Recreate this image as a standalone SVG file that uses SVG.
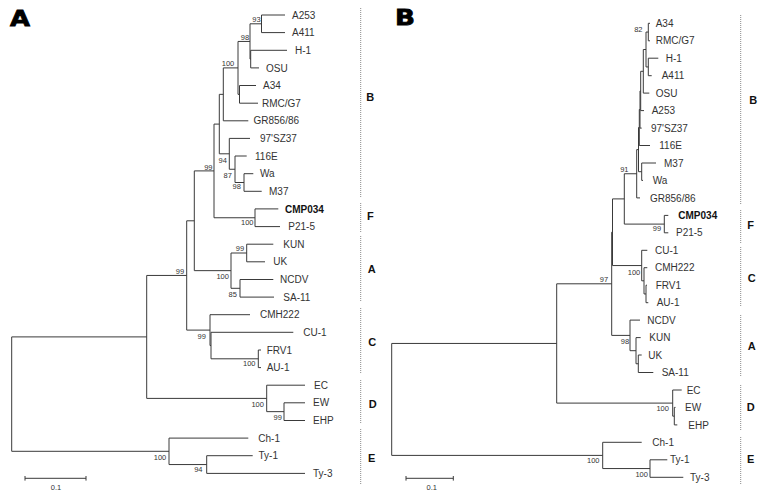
<svg xmlns="http://www.w3.org/2000/svg" width="768" height="498" viewBox="0 0 768 498">
<style>
.br{fill:none;stroke:#3a3a3a;stroke-width:1}
.dot{fill:none;stroke:#8a8a8a;stroke-width:1;stroke-dasharray:1 1}
text{font-family:"Liberation Sans",Arial,sans-serif;fill:#333}
.lf{font-size:10px}
.bd{font-weight:bold;fill:#111}
.bs{font-size:7.5px;text-anchor:middle}
.cl{font-size:11px;font-weight:bold;text-anchor:middle;fill:#111}
.pn{font-family:"DejaVu Sans",sans-serif;font-size:22px;font-weight:bold;fill:#000;stroke:#000;stroke-width:0.8}
</style>
<rect width="768" height="498" fill="#fff"/>
<text class="pn" x="10" y="26" textLength="20" lengthAdjust="spacingAndGlyphs">A</text>
<text class="pn" x="395" y="25" textLength="20" lengthAdjust="spacingAndGlyphs">B</text>

<g id="connectors">
<path class="br" d="M11.7 336.9V451.3M146.7 275.45V398.4M186.7 220.8V330.1M194.3 170.9V270.65M214 124.1V217.75M219.3 94.35V153.8M223.3 67.9V120.8M238 41.45V94.35M250 23.8V59.1M261.5 15V32.6M250.7 50.3V67.9M239.5 85.5V103.2M229.3 138.4V169.25M235 156V182.5M244 173.7V191.3M255 208.9V226.6M231 253V288.3M246.7 244.2V261.8M240 279.5V297.1M210 314.7V345.55M211 332.3V358.8M258.3 350V367.6M266.7 385.2V411.65M284 402.8V420.5M169 438.1V464.55M206.7 455.7V473.4"/>
<path class="br" d="M11.7 336.9H146.7M11.7 451.3H169M146.7 275.45H186.7M146.7 398.4H266.7M186.7 220.8H194.3M186.7 330.1H210M194.3 170.9H214M194.3 270.65H231M214 124.1H219.3M214 217.75H255M219.3 94.35H223.3M219.3 153.8H229.3M223.3 67.9H238M223.3 120.8H248.3M238 41.45H250M238 94.35H239.5M250 23.8H261.5M250 59.1H250.7M261.5 15H285M261.5 32.6H285M250.7 50.3H287M250.7 67.9H259M239.5 85.5H256M239.5 103.2H258M229.3 138.4H250M229.3 169.25H235M235 156H246.7M235 182.5H244M244 173.7H253.3M244 191.3H261.7M255 208.9H278.3M255 226.6H280M231 253H246.7M231 288.3H240M246.7 244.2H273.3M246.7 261.8H265M240 279.5H273.3M240 297.1H274M210 314.7H250M210 345.55H211M211 332.3H293.3M211 358.8H258.3M258.3 350H261M258.3 367.6H261M266.7 385.2H305M266.7 411.65H284M284 402.8H305M284 420.5H305M169 438.1H248.3M169 464.55H206.7M206.7 455.7H252.7M206.7 473.4H305"/>
<path class="br" d="M391.7 343.45V455.4M556.7 283.8V403.1M611.7 232.2V335.4M612.5 198.9V265.55M624.3 173.75V224.1M636.7 149.6V197.9M638.5 127.5V171.7M639.3 109.5V145.5M640 90.95V128.1M640.7 71.3V110.6M643.3 49.5V93.1M646 32.05V66.95M648.3 23.3V40.8M648.3 58.2V75.7M641.7 163V180.4M664.3 215.4V232.8M641.7 250.3V280.8M644 267.7V293.95M646 285.2V302.7M630 320.1V350.7M636 337.6V363.75M638.3 355V372.5M672.7 390V416.15M674.3 407.4V424.9M602.7 442.3V468.55M650 459.8V477.3"/>
<path class="br" d="M391.7 343.45H556.7M391.7 455.4H602.7M556.7 283.8H611.7M556.7 403.1H672.7M611.7 232.2H612.5M611.7 335.4H630M612.5 198.9H624.3M612.5 265.55H641.7M624.3 173.75H636.7M624.3 224.1H664.3M636.7 149.6H638.5M636.7 197.9H640M638.5 127.5H639.3M638.5 171.7H641.7M639.3 109.5H640M639.3 145.5H650M640 90.95H640.7M640 128.1H641.7M640.7 71.3H643.3M640.7 110.6H644M643.3 49.5H646M643.3 93.1H649.3M646 32.05H648.3M646 66.95H648.3M648.3 23.3H650M648.3 40.8H650M648.3 58.2H658.3M648.3 75.7H651.7M641.7 163H656M641.7 180.4H643M664.3 215.4H668.3M664.3 232.8H668.3M641.7 250.3H647.3M641.7 280.8H644M644 267.7H647.3M644 293.95H646M646 285.2H647M646 302.7H648.3M630 320.1H640M630 350.7H636M636 337.6H640.7M636 363.75H638.3M638.3 355H641.7M638.3 372.5H653.3M672.7 390H681.7M672.7 416.15H674.3M674.3 407.4H675.5M674.3 424.9H677.3M602.7 442.3H641.7M602.7 468.55H650M650 459.8H667.3M650 477.3H683.3"/>
</g>

<g id="scalebars">
<path class="br" d="M25 478.3H86M25 476V480.6M86 476V480.6M406 478.3H453.3M406 476V480.6M453.3 476V480.6"/>
<text class="bs" x="56" y="490.4">0.1</text>
<text class="bs" x="431.7" y="490.4">0.1</text>
</g>

<g id="groupsA">
<path class="dot" d="M360.7 8V197M360.7 203V232M360.7 236V302M360.7 308V373M360.7 380V423M360.7 429V485"/>
<text class="cl" x="370.3" y="101">B</text>
<text class="cl" x="370.3" y="220">F</text>
<text class="cl" x="371.7" y="273.3">A</text>
<text class="cl" x="372.3" y="345.7">C</text>
<text class="cl" x="372.7" y="408.3">D</text>
<text class="cl" x="371.7" y="461.7">E</text>
</g>
<g id="groupsB">
<path class="dot" d="M740.7 15V205M740.7 210V243M740.7 247V307M740.7 315V377M740.7 385V430M740.7 437V485"/>
<text class="cl" x="753.3" y="104">B</text>
<text class="cl" x="750.7" y="229">F</text>
<text class="cl" x="751.7" y="282.3">C</text>
<text class="cl" x="751.7" y="350">A</text>
<text class="cl" x="750.7" y="410.7">D</text>
<text class="cl" x="750.7" y="463.3">E</text>
</g>

<g id="treeA-leaves">
<g id="A-A253"><text class="lf" x="292" y="18.6">A253</text></g>
<g id="A-A411"><text class="lf" x="292" y="36.2">A411</text></g>
<g id="A-H-1"><text class="lf" x="295" y="53.9">H-1</text></g>
<g id="A-OSU"><text class="lf" x="266" y="71.5">OSU</text></g>
<g id="A-A34"><text class="lf" x="263" y="89.1">A34</text></g>
<g id="A-RMCG7"><text class="lf" x="262" y="106.8">RMC/G7</text></g>
<g id="A-GR856"><text class="lf" x="253.5" y="124.4">GR856/86</text></g>
<g id="A-97SZ37"><text class="lf" x="260" y="142">97'SZ37</text></g>
<g id="A-116E"><text class="lf" x="255" y="159.6">116E</text></g>
<g id="A-Wa"><text class="lf" x="260" y="177.3">Wa</text></g>
<g id="A-M37"><text class="lf" x="269" y="194.9">M37</text></g>
<g id="A-CMP034"><text class="lf bd" x="285" y="212.5">CMP034</text></g>
<g id="A-P21-5"><text class="lf" x="288.3" y="230.2">P21-5</text></g>
<g id="A-KUN"><text class="lf" x="283.3" y="247.8">KUN</text></g>
<g id="A-UK"><text class="lf" x="273.3" y="265.4">UK</text></g>
<g id="A-NCDV"><text class="lf" x="280" y="283.1">NCDV</text></g>
<g id="A-SA-11"><text class="lf" x="283.3" y="300.7">SA-11</text></g>
<g id="A-CMH222"><text class="lf" x="260" y="318.3">CMH222</text></g>
<g id="A-CU-1"><text class="lf" x="303.3" y="335.9">CU-1</text></g>
<g id="A-FRV1"><text class="lf" x="266.7" y="353.6">FRV1</text></g>
<g id="A-AU-1"><text class="lf" x="266.7" y="371.2">AU-1</text></g>
<g id="A-EC"><text class="lf" x="314" y="388.8">EC</text></g>
<g id="A-EW"><text class="lf" x="313" y="406.4">EW</text></g>
<g id="A-EHP"><text class="lf" x="313" y="424.1">EHP</text></g>
<g id="A-Ch-1"><text class="lf" x="258.3" y="441.7">Ch-1</text></g>
<g id="A-Ty-1"><text class="lf" x="258.5" y="459.3">Ty-1</text></g>
<g id="A-Ty-3"><text class="lf" x="313" y="477">Ty-3</text></g>
</g>

<g id="treeA-nodes">
<g id="A-n93"><text class="bs" x="256.5" y="22.2">93</text></g>
<g id="A-n98a"><text class="bs" x="245" y="40.2">98</text></g>
<g id="A-n100a"><text class="bs" x="228" y="66.2">100</text></g>
<g id="A-n99z"><text class="bs" x="208.3" y="170">99</text></g>
<g id="A-n94"><text class="bs" x="222.7" y="162.7">94</text></g>
<g id="A-n87"><text class="bs" x="227.7" y="177.7">87</text></g>
<g id="A-n98b"><text class="bs" x="236.7" y="189.4">98</text></g>
<g id="A-n100f"><text class="bs" x="247.3" y="225.4">100</text></g>
<g id="A-n99k"><text class="bs" x="240" y="251">99</text></g>
<g id="A-n100a2"><text class="bs" x="222.7" y="278.7">100</text></g>
<g id="A-n85"><text class="bs" x="232.7" y="296.7">85</text></g>
<g id="A-n99u"><text class="bs" x="180" y="274.4">99</text></g>
<g id="A-n99c"><text class="bs" x="201.7" y="339.4">99</text></g>
<g id="A-n100fa"><text class="bs" x="249.3" y="366">100</text></g>
<g id="A-n100d"><text class="bs" x="257.7" y="407">100</text></g>
<g id="A-n99ew"><text class="bs" x="277.7" y="420">99</text></g>
<g id="A-n100e"><text class="bs" x="160" y="460">100</text></g>
<g id="A-n94ty"><text class="bs" x="198.3" y="472">94</text></g>
</g>

<g id="treeB-leaves">
<g id="B-A34"><text class="lf" x="655.7" y="26.9">A34</text></g>
<g id="B-RMCG7"><text class="lf" x="655.7" y="44.4">RMC/G7</text></g>
<g id="B-H-1"><text class="lf" x="665.7" y="61.8">H-1</text></g>
<g id="B-A411"><text class="lf" x="661.7" y="79.3">A411</text></g>
<g id="B-OSU"><text class="lf" x="655.7" y="96.7">OSU</text></g>
<g id="B-A253"><text class="lf" x="651.7" y="114.2">A253</text></g>
<g id="B-97SZ37"><text class="lf" x="651" y="131.7">97'SZ37</text></g>
<g id="B-116E"><text class="lf" x="659.3" y="149.1">116E</text></g>
<g id="B-M37"><text class="lf" x="664" y="166.6">M37</text></g>
<g id="B-Wa"><text class="lf" x="652.7" y="184">Wa</text></g>
<g id="B-GR856"><text class="lf" x="650" y="201.5">GR856/86</text></g>
<g id="B-CMP034"><text class="lf bd" x="678.3" y="219">CMP034</text></g>
<g id="B-P21-5"><text class="lf" x="676" y="236.4">P21-5</text></g>
<g id="B-CU-1"><text class="lf" x="655" y="253.9">CU-1</text></g>
<g id="B-CMH222"><text class="lf" x="655" y="271.3">CMH222</text></g>
<g id="B-FRV1"><text class="lf" x="655.7" y="288.8">FRV1</text></g>
<g id="B-AU-1"><text class="lf" x="656.7" y="306.3">AU-1</text></g>
<g id="B-NCDV"><text class="lf" x="647.3" y="323.7">NCDV</text></g>
<g id="B-KUN"><text class="lf" x="649.3" y="341.2">KUN</text></g>
<g id="B-UK"><text class="lf" x="648.3" y="358.6">UK</text></g>
<g id="B-SA-11"><text class="lf" x="661.7" y="376.1">SA-11</text></g>
<g id="B-EC"><text class="lf" x="686.7" y="393.6">EC</text></g>
<g id="B-EW"><text class="lf" x="685" y="411">EW</text></g>
<g id="B-EHP"><text class="lf" x="688.3" y="428.5">EHP</text></g>
<g id="B-Ch-1"><text class="lf" x="652.3" y="445.9">Ch-1</text></g>
<g id="B-Ty-1"><text class="lf" x="670" y="463.4">Ty-1</text></g>
<g id="B-Ty-3"><text class="lf" x="690" y="480.9">Ty-3</text></g>
</g>

<g id="treeB-nodes">
<g id="B-n82"><text class="bs" x="638.3" y="32">82</text></g>
<g id="B-n91"><text class="bs" x="624.3" y="172">91</text></g>
<g id="B-n99f"><text class="bs" x="657" y="231.2">99</text></g>
<g id="B-n97"><text class="bs" x="604" y="281.7">97</text></g>
<g id="B-n100c"><text class="bs" x="634" y="275.2">100</text></g>
<g id="B-n98a"><text class="bs" x="625" y="344.4">98</text></g>
<g id="B-n100d"><text class="bs" x="662.7" y="411">100</text></g>
<g id="B-n100e"><text class="bs" x="593.3" y="463.4">100</text></g>
<g id="B-n100ty"><text class="bs" x="641.7" y="476.7">100</text></g>
</g>
</svg>
